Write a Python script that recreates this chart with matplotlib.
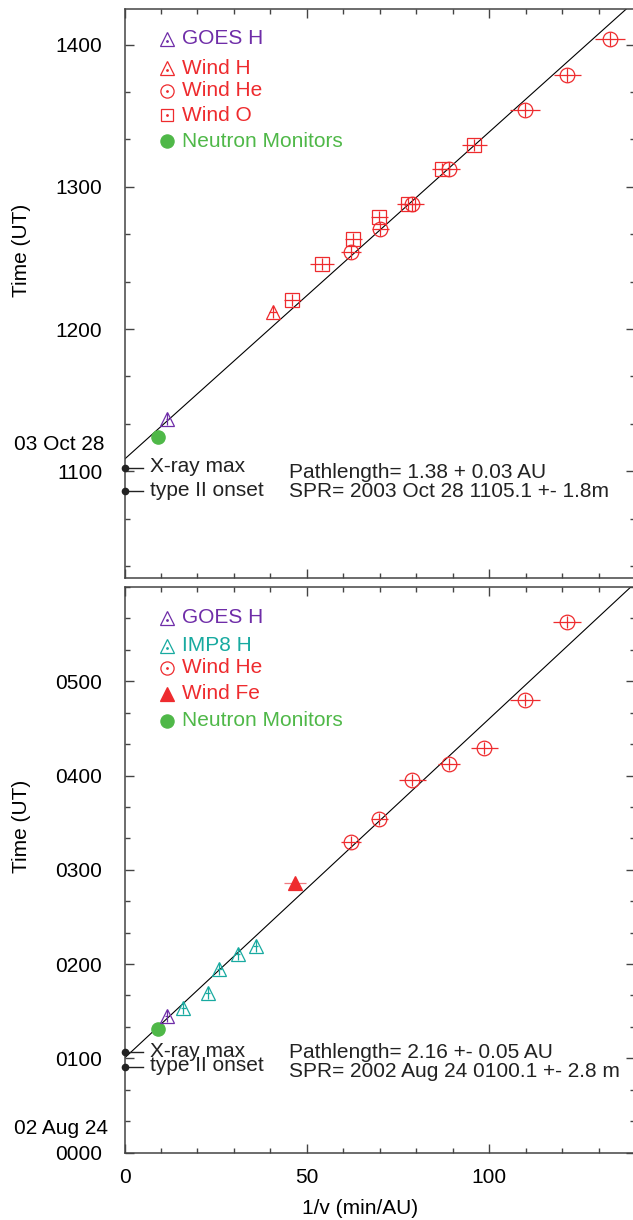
import matplotlib
matplotlib.use("Agg")
import matplotlib.pyplot as plt
from matplotlib.ticker import MultipleLocator, FixedLocator, FixedFormatter

plt.rcParams['font.family'] = ['Liberation Sans', 'DejaVu Sans']
plt.rcParams['font.size'] = 15

# ---------------- data (time in minutes of day, x = 1/v in min/AU) -------------
# Top panel: 2003 Oct 28
top_goes_x = [11.7]
top_goes_t = [682.1]
top_nm_x = [9.2]
top_nm_t = [674.5]
top_windH_x = [40.8]
top_windH_t = [727.3]
top_windH_xerr = [1.1]
top_windO_x = [46.0, 54.1, 62.8, 69.9, 77.8, 87.0, 95.9]
top_windO_t = [732.3, 747.3, 757.9, 767.4, 772.8, 787.6, 797.5]
top_windO_xerr = [2.3, 3.3, 2.3, 2.3, 3.1, 2.6, 3.4]
top_windHe_x = [62.1, 70.1, 78.9, 89.0, 109.8, 121.4, 133.2]
top_windHe_t = [752.6, 762.3, 772.8, 787.6, 812.4, 827.3, 842.3]
top_windHe_xerr = [2.7, 2.3, 3.3, 3.0, 4.2, 3.7, 4.1]
top_xray_t = 661.4
top_typeII_t = 651.5
top_spr_t0 = 665.1      # 1105.1 UT
top_pathlength = 1.38

# Bottom panel: 2002 Aug 24
bot_goes_x = [11.6]
bot_goes_t = [87.1]
bot_imp8_x = [16.1, 22.8, 26.0, 31.1, 36.0]
bot_imp8_t = [91.8, 101.3, 116.6, 126.4, 131.5]
bot_windHe_x = [62.1, 69.9, 78.9, 89.0, 98.6, 109.8, 121.3]
bot_windHe_t = [197.5, 212.5, 237.1, 247.3, 257.3, 287.9, 337.5]
bot_windHe_xerr = [2.7, 2.3, 3.7, 3.1, 3.7, 4.2, 3.8]
bot_windFe_x = [46.8]
bot_windFe_t = [171.8]
bot_windFe_xerr = [3.0]
bot_nm_x = [9.3]
bot_nm_t = [78.6]
bot_xray_t = 63.8
bot_typeII_t = 54.6
bot_spr_t0 = 60.1       # 0100.1 UT
bot_pathlength = 2.16

top_ticklabels = ['1100', '1200', '1300', '1400']
top_tickvals = [660, 720, 780, 840]
bot_ticklabels = ['0000', '0100', '0200', '0300', '0400', '0500']
bot_tickvals = [0, 60, 120, 180, 240, 300]

# ---------------- colours -------------
C_GOES = '#6f2da8'
C_WIND = '#ee2b2e'
C_IMP8 = '#18aaa0'
C_NM = '#4fb848'
C_FE_ERR = '#f07a80'

W, H = 633, 1220
fig = plt.figure(figsize=(W / 100, H / 100), dpi=100)

def ax_rect(left_px, top_px, right_px, bottom_px):
    return [left_px / W, 1 - bottom_px / H, (right_px - left_px) / W, (bottom_px - top_px) / H]

ax1 = fig.add_axes(ax_rect(124.5, 9, 635, 578))
ax2 = fig.add_axes(ax_rect(124.5, 587, 635, 1152.5))

def style_axes(ax, ylim, tickvals, ticklabels, show_xlabels):
    ax.set_xlim(0, 140)
    ax.set_ylim(*ylim)
    ax.xaxis.set_major_locator(MultipleLocator(50))
    ax.xaxis.set_minor_locator(MultipleLocator(10))
    ax.yaxis.set_major_locator(FixedLocator(tickvals))
    ax.yaxis.set_major_formatter(FixedFormatter(ticklabels))
    ax.yaxis.set_minor_locator(MultipleLocator(20))
    ax.tick_params(which='both', direction='in', top=True, right=True,
                   color='#444444', width=1.0)
    ax.tick_params(which='major', length=6.5)
    ax.tick_params(which='minor', length=3.6)
    ax.tick_params(axis='y', which='major', pad=16, labelsize=15)
    ax.tick_params(axis='x', which='major', pad=11, labelsize=15)
    if not show_xlabels:
        ax.tick_params(axis='x', labelbottom=False)
    for s in ax.spines.values():
        s.set_color('#444444')
        s.set_linewidth(1.1)

style_axes(ax1, (615, 855), top_tickvals, top_ticklabels, False)
style_axes(ax2, (0, 360), bot_tickvals, bot_ticklabels, True)

def eb(ax, x, t, xerr, yerr, marker, color, ms, filled=False, ecolor=None):
    ax.errorbar(x, t, xerr=xerr, yerr=yerr, fmt=marker, ms=ms,
                mfc=color if filled else 'none', mec=color, mew=0.9,
                ecolor=ecolor or color, elinewidth=0.9, capsize=0, zorder=3)

# fit lines
xs = [0, 140]
ax1.plot(xs, [top_spr_t0 + top_pathlength * v for v in xs], color='k', lw=0.8, zorder=2)
ax2.plot(xs, [bot_spr_t0 + bot_pathlength * v for v in xs], color='k', lw=0.8, zorder=2)

# top panel data
eb(ax1, top_windO_x, top_windO_t, top_windO_xerr, 2.5, 's', C_WIND, 9.5)
eb(ax1, top_windHe_x, top_windHe_t, top_windHe_xerr, 3.0, 'o', C_WIND, 10.5)
eb(ax1, top_windH_x, top_windH_t, top_windH_xerr, 2.5, '^', C_WIND, 10)
eb(ax1, top_goes_x, top_goes_t, 0.4, 2.5, '^', C_GOES, 10)
ax1.plot(top_nm_x, top_nm_t, 'o', color=C_NM, ms=9.5, zorder=3)

# bottom panel data
eb(ax2, bot_windHe_x, bot_windHe_t, bot_windHe_xerr, 3.8, 'o', C_WIND, 10.5)
eb(ax2, bot_imp8_x, bot_imp8_t, 0.7, 3.8, '^', C_IMP8, 10)
eb(ax2, bot_goes_x, bot_goes_t, 0.4, 3.8, '^', C_GOES, 10)
eb(ax2, bot_windFe_x, bot_windFe_t, bot_windFe_xerr, 0, '^', C_WIND, 10, filled=True, ecolor=C_FE_ERR)
ax2.plot(bot_nm_x, bot_nm_t, 'o', color=C_NM, ms=9.5, zorder=3)

# X-ray max / type II markers and text
def onset_marks(ax, t_x, t_2, ty_x, ty_2, path_txt, spr_txt, tp1, tp2):
    for t in (t_x, t_2):
        ax.plot([0], [t], 'o', color='#222222', ms=4.5, clip_on=False, zorder=4)
        ax.plot([0, 5.2], [t, t], color='#222222', lw=1.0, clip_on=False, zorder=4)
    ax.text(7.0, ty_x, 'X-ray max', va='center', ha='left', fontsize=15, color='#222222')
    ax.text(7.0, ty_2, 'type II onset', va='center', ha='left', fontsize=15, color='#222222')
    ax.text(45.1, tp1, path_txt, va='center', ha='left', fontsize=15, color='#222222')
    ax.text(45.1, tp2, spr_txt, va='center', ha='left', fontsize=15, color='#222222')

onset_marks(ax1, top_xray_t, top_typeII_t, 662.2, 651.7,
            'Pathlength= 1.38 + 0.03 AU', 'SPR= 2003 Oct 28 1105.1 +- 1.8m', 659.3, 651.3)
onset_marks(ax2, bot_xray_t, bot_typeII_t, 64.2, 55.7,
            'Pathlength= 2.16 +- 0.05 AU', 'SPR= 2002 Aug 24 0100.1 +- 2.8 m', 63.5, 51.4)

# legends (manual)
def legend(ax, entries):
    for label, marker, color, filled, ms, yfrac in entries:
        ax.plot([0.0833], [yfrac], marker=marker, ms=ms, mfc=color if filled else 'none',
                mec=color, mew=0.9, ls='none', transform=ax.transAxes, clip_on=False)
        if not filled:
            ax.plot([0.0833], [yfrac - (0.004 if marker == '^' else 0)], marker='.', ms=2,
                    color=color, ls='none', transform=ax.transAxes)
        ax.text(0.1126, yfrac, label, color=color, fontsize=15, va='center', ha='left',
                transform=ax.transAxes)

legend(ax1, [
    ('GOES H', '^', C_GOES, False, 10, 0.9473),
    ('Wind H', '^', C_WIND, False, 10, 0.8963),
    ('Wind He', 'o', C_WIND, False, 9.5, 0.8559),
    ('Wind O', 's', C_WIND, False, 8.5, 0.8137),
    ('Neutron Monitors', 'o', C_NM, True, 9.5, 0.768),
])
legend(ax2, [
    ('GOES H', '^', C_GOES, False, 10, 0.9452),
    ('IMP8 H', '^', C_IMP8, False, 10, 0.8957),
    ('Wind He', 'o', C_WIND, False, 9.5, 0.8568),
    ('Wind Fe', '^', C_WIND, True, 10, 0.8108),
    ('Neutron Monitors', 'o', C_NM, True, 9.5, 0.7631),
])

# axis labels & date labels
fig.text(22 / W, 1 - 250 / H, 'Time (UT)', rotation=90, ha='center', va='center', fontsize=15)
fig.text(22 / W, 1 - 826 / H, 'Time (UT)', rotation=90, ha='center', va='center', fontsize=15)
fig.text(360 / W, 1 - 1208 / H, '1/v (min/AU)', ha='center', va='center', fontsize=15)
fig.text(105 / W, 1 - 445 / H, '03 Oct 28', ha='right', va='center', fontsize=15)
fig.text(108 / W, 1 - 1128 / H, '02 Aug 24', ha='right', va='center', fontsize=15)

fig.savefig('out.png', dpi=100)
